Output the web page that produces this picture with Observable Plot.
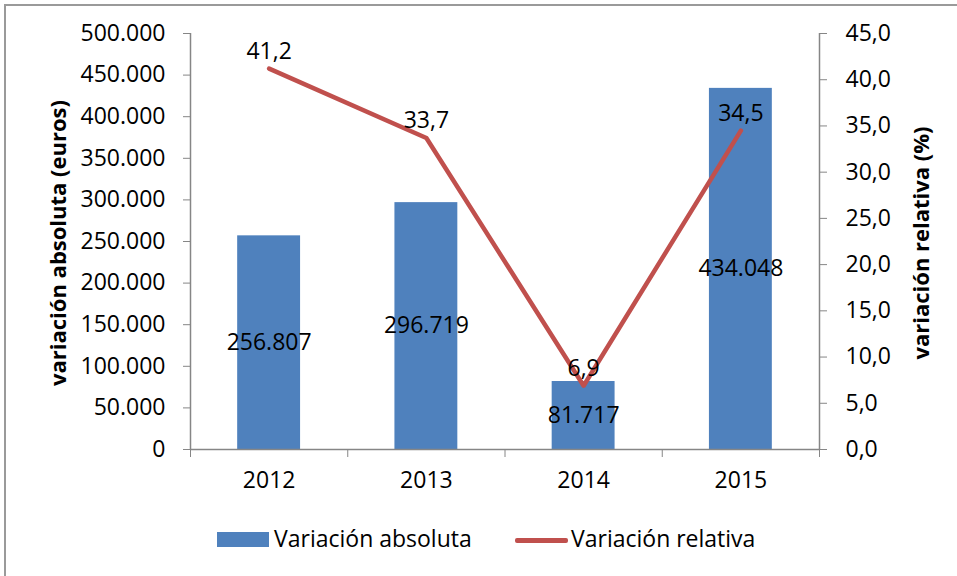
<!DOCTYPE html>
<html><head><meta charset="utf-8">
<script src="https://cdn.jsdelivr.net/npm/d3@7"></script>
<script src="https://cdn.jsdelivr.net/npm/@observablehq/plot@0.6"></script>
<style>
body{margin:0;background:#fff;font-family:"Open Sans",sans-serif;}
#wrap{position:relative;width:957px;height:576px;overflow:hidden;background:#fff;}
#frame{position:absolute;left:4px;top:4px;width:1100px;height:1000px;border-left:2px solid #9a9a9a;border-top:2px solid #9a9a9a;}
#chart{position:absolute;left:0;top:0;}
.ytitle{position:absolute;font-weight:bold;font-size:22px;white-space:nowrap;color:#000;transform:translate(-50%,-50%) rotate(-90deg);}
.leg{position:absolute;font-size:23px;color:#000;white-space:nowrap;line-height:1;}
</style>
</head><body>
<div id="wrap">
<div id="frame"></div>
<div id="chart"></div>
<div class="ytitle" style="left:57px;top:243px;">variación absoluta (euros)</div>
<div class="ytitle" style="left:920px;top:243px;">variación relativa (%)</div>
<div style="position:absolute;left:217px;top:532px;width:52px;height:15px;background:#4F81BD;"></div>
<div class="leg" style="left:274px;top:527px;">Variación absoluta</div>
<div style="position:absolute;left:515px;top:538px;width:53px;height:4.5px;border-radius:2px;background:#C0504D;"></div>
<div class="leg" style="left:571px;top:527px;">Variación relativa</div>
</div>
<script>
const years = [2012, 2013, 2014, 2015];
const absVals = [256807, 296719, 81717, 434048];
const relVals = [41.2, 33.7, 6.9, 34.5];
const leftTicks = [0, 50000, 100000, 150000, 200000, 250000, 300000, 350000, 400000, 450000, 500000];
const rightTicks = [0, 5, 10, 15, 20, 25, 30, 35, 40, 45];
const bandEdges = [2011.5, 2012.5, 2013.5, 2014.5, 2015.5];

const K = 500000 / 45;
const data = years.map((y, i) => ({year: y, abs: absVals[i], rel: relVals[i]}));
const fmtThousands = v => d3.format(",")(v).replace(/,/g, ".");
const fmtDec = v => v.toFixed(1).replace(".", ",");
const axisColor = "#868686";

const chart = Plot.plot({
  width: 957,
  height: 576,
  marginTop: 33,
  marginBottom: 127,
  marginLeft: 190,
  marginRight: 138,
  x: {domain: [2011.5, 2015.5]},
  y: {domain: [0, 500000]},
  style: {fontFamily: "Open Sans", fontSize: "23px", color: "#000", background: "transparent", overflow: "visible"},
  marks: [
    Plot.rectY(data, {x1: d => d.year - 0.2, x2: d => d.year + 0.2, y1: 0, y2: "abs", fill: "#4F81BD"}),
    Plot.ruleY([0], {stroke: axisColor, strokeWidth: 1.5}),
    Plot.ruleX([2011.5, 2015.5], {stroke: axisColor, strokeWidth: 1.5}),
    Plot.axisX({ticks: bandEdges, tickSize: 8, tickFormat: () => "", stroke: axisColor, label: null}),
    Plot.axisX({ticks: years, tickSize: 0, tickPadding: 22, tickFormat: d => String(d), fill: "#000", label: null}),
    Plot.axisY({ticks: leftTicks, tickSize: 7, tickPadding: 18, tickFormat: fmtThousands, stroke: axisColor, fill: "#000", label: null}),
    Plot.axisY({anchor: "right", ticks: rightTicks.map(v => v * K), tickSize: 7, tickPadding: 19, tickFormat: d => fmtDec(d / K), stroke: axisColor, fill: "#000", label: null}),
    Plot.text(data, {x: "year", y: d => d.abs / 2, text: d => fmtThousands(d.abs), fill: "#000"}),
    Plot.line(data, {x: "year", y: d => d.rel * K, stroke: "#C0504D", strokeWidth: 4.5, strokeLinecap: "round", strokeLinejoin: "round"}),
    Plot.text(data, {x: "year", y: d => d.rel * K, dy: -17, text: d => fmtDec(d.rel), fill: "#000"})
  ]
});
document.getElementById("chart").appendChild(chart);
</script>
</body></html>
